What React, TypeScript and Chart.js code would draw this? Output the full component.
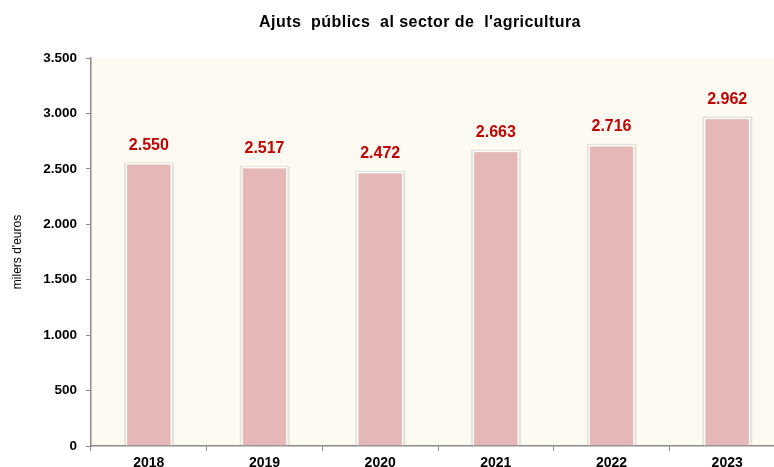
import React, { useEffect, useRef } from "react";
import { Chart, registerables } from "chart.js";
Chart.register(...registerables);

const categories = ["2018", "2019", "2020", "2021", "2022", "2023"];
const values = [2550, 2517, 2472, 2663, 2716, 2962];
const yTicks = [0, 500, 1000, 1500, 2000, 2500, 3000, 3500];
const titleText = "Ajuts  públics  al sector de  l'agricultura";
const yTitle = "milers d'euros";

const FONT = "'Liberation Sans', Arial, sans-serif";
const fmt = (v: number) => String(v).replace(/\B(?=(\d{3})+(?!\d))/g, ".");

const bgPlugin = {
  id: "bg",
  beforeDraw(chart: any) {
    const { ctx, chartArea } = chart;
    ctx.save();
    ctx.fillStyle = "#FDFAF2";
    ctx.fillRect(chartArea.left, chartArea.top, chartArea.right - chartArea.left, chartArea.bottom - chartArea.top);
    ctx.restore();
  },
};

const titlePlugin = {
  id: "customTitle",
  afterDraw(chart: any) {
    const { ctx } = chart;
    ctx.save();
    ctx.fillStyle = "#000";
    ctx.font = `bold 16px ${FONT}`;
    (ctx as any).letterSpacing = "0.45px";
    ctx.textAlign = "center";
    ctx.textBaseline = "alphabetic";
    ctx.fillText(titleText, chart.width / 2, 27);
    ctx.restore();
  },
};

const shadowPlugin = {
  id: "barShadow",
  beforeDatasetsDraw(chart: any) {
    const { ctx } = chart;
    const meta = chart.getDatasetMeta(0);
    ctx.save();
    ctx.fillStyle = "rgba(140,140,120,0.22)";
    meta.data.forEach((bar: any) => {
      const w = bar.width;
      ctx.fillRect(bar.x - w / 2 - 1.5, bar.y - 1, w + 3.5, bar.base - bar.y + 1);
    });
    ctx.restore();
  },
};

const labelPlugin = {
  id: "valueLabels",
  afterDatasetsDraw(chart: any) {
    const { ctx } = chart;
    const meta = chart.getDatasetMeta(0);
    ctx.save();
    ctx.fillStyle = "#C00000";
    ctx.font = `bold 16px ${FONT}`;
    ctx.textAlign = "center";
    ctx.textBaseline = "middle";
    meta.data.forEach((bar: any, i: number) => {
      ctx.fillText(fmt(values[i]), bar.x, bar.y - 18);
    });
    ctx.restore();
  },
};

export default function App() {
  const ref = useRef<HTMLCanvasElement>(null);
  useEffect(() => {
    if (!ref.current) return;
    const chart = new Chart(ref.current, {
      type: "bar",
      data: {
        labels: categories,
        datasets: [
          {
            data: values,
            backgroundColor: "#E5B7B7",
            borderColor: "#FFFFFF",
            borderWidth: 1.5,
            barPercentage: 0.4,
            categoryPercentage: 1,
          },
        ],
      },
      options: {
        animation: false,
        responsive: false,
        maintainAspectRatio: false,
        layout: { padding: { left: 0, right: 55, top: 58, bottom: 0 } },
        plugins: {
          legend: { display: false },
          tooltip: { enabled: false },
          title: { display: false },
        },
        scales: {
          x: {
            afterFit: (axis: any) => {
              axis.height = 26;
            },
            grid: {
              offset: true,
              drawOnChartArea: false,
              drawTicks: true,
              tickLength: 5,
              color: "#8C8C8C",
            },
            border: { color: "#8C8C8C", width: 1.5 },
            ticks: {
              color: "#000",
              font: { family: FONT, size: 14, weight: "bold" },
              padding: 4,
            },
          },
          y: {
            min: 0,
            max: 3500,
            afterBuildTicks: (axis: any) => {
              axis.ticks = yTicks.map((v) => ({ value: v }));
            },
            afterFit: (axis: any) => {
              axis.width = 91;
            },
            grid: {
              drawOnChartArea: false,
              drawTicks: true,
              tickLength: 5,
              color: "#8C8C8C",
            },
            border: { color: "#8C8C8C", width: 1.5 },
            ticks: {
              color: "#000",
              font: { family: FONT, size: 13.5, weight: "bold" },
              padding: 9,
              callback: (v: any) => fmt(Number(v)),
            },
            title: {
              display: true,
              text: yTitle,
              color: "#000",
              font: { family: FONT, size: 12 },
              padding: { top: 10, bottom: 0 },
            },
          },
        },
      },
      plugins: [bgPlugin, shadowPlugin, labelPlugin, titlePlugin],
    });
    return () => chart.destroy();
  }, []);
  return (
    <div style={{ position: "fixed", left: 0, top: 0, width: 840, height: 472 }}>
      <canvas ref={ref} width={840} height={472} style={{ width: 840, height: 472 }} />
    </div>
  );
}
